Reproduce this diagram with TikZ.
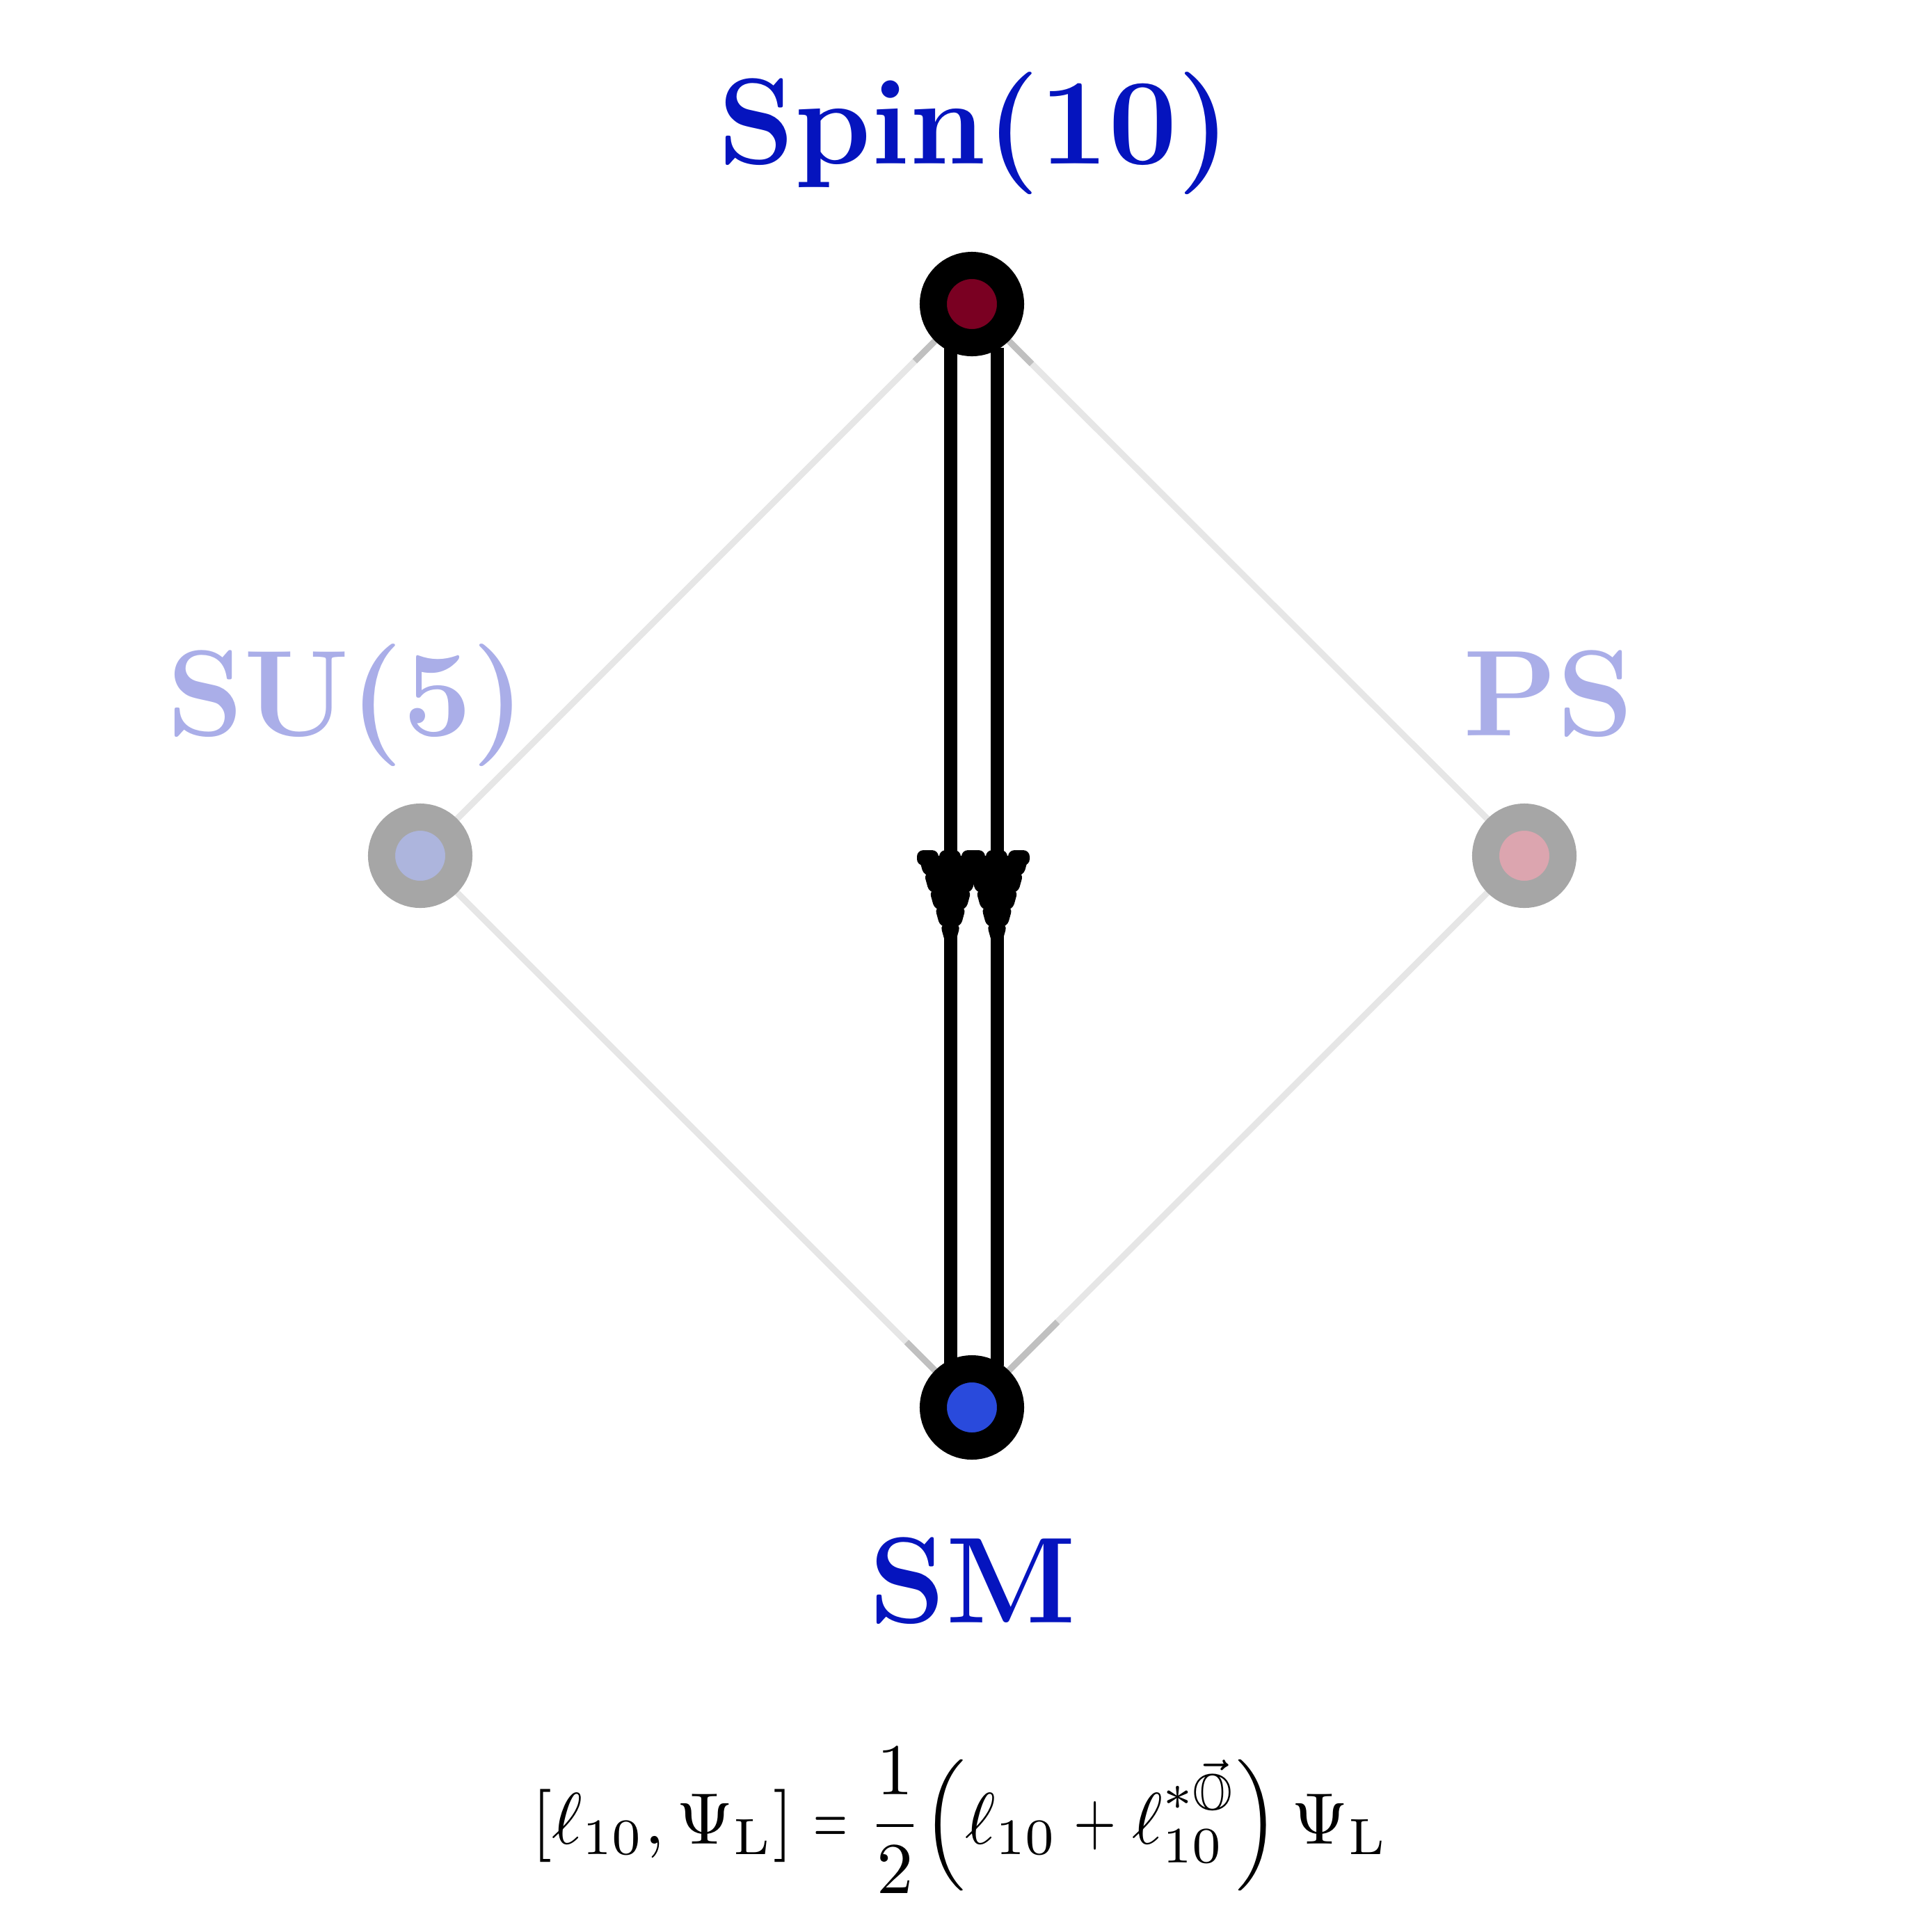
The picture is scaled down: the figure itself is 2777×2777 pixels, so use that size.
\documentclass[tikz,border=0pt]{standalone}
\usepackage{amsmath,amssymb,graphicx}
\usetikzlibrary{calc,backgrounds}
\definecolor{labdark}{RGB}{5,20,190}
\definecolor{lablight}{RGB}{170,174,232}
\definecolor{ringgray}{RGB}{166,166,166}
\definecolor{diagline}{RGB}{230,230,230}
\definecolor{diagdark}{RGB}{192,192,192}
\definecolor{spinfill}{RGB}{122,0,34}
\definecolor{smfill}{RGB}{41,74,220}
\definecolor{sufill}{RGB}{173,181,221}
\definecolor{psfill}{RGB}{220,165,175}
\tikzset{
  grpnode/.style={circle, minimum size=1.11cm, inner sep=0pt, line width=0.39cm},
  activenode/.style={grpnode, draw=black},
  idlenode/.style={grpnode, draw=ringgray},
  biglabel/.style={anchor=base, inner sep=0pt, font=\fontsize{50}{60}\selectfont\bfseries},
  diagconn/.style={draw=diagline, line width=2.6pt},
  diagnear/.style={draw=diagdark, line width=2.6pt},
  flowline/.style={draw=black, line width=5.4pt},
  tipblob/.style={fill=black, rounded corners=2.6pt}
}
\newcommand{\tipstack}[1]{%
  \foreach \b in {0,1,2}{%
    \pgfmathsetmacro{\bl}{#1-48+32*\b}%
    \path[tipblob] (\bl,1222) rectangle (\bl+31,1244);
  }%
  \foreach \k in {0,...,4}{%
    \pgfmathsetmacro{\ty}{1230+24.5*\k}%
    \pgfmathsetmacro{\hw}{46-7.8*\k}%
    \pgfmathsetmacro{\hb}{\hw-8}%
    \path[tipblob] (#1-\hw,\ty) -- (#1+\hw,\ty) -- (#1+\hb,\ty+29) -- (#1-\hb,\ty+29) -- cycle;
  }%
}
\begin{document}
\begin{tikzpicture}[x=0.01cm,y=-0.01cm]
\useasboundingbox (0,0) rectangle (2777,2777);
% group nodes
\node[activenode, fill=spinfill] (spin) at (1397,437) {};
\node[idlenode, fill=sufill] (su5) at (604,1230) {};
\node[idlenode, fill=psfill] (ps) at (2191,1230) {};
\node[activenode, fill=smfill] (sm) at (1397,2023) {};
% labels
\node[biglabel, text=labdark] (spinlab) at (1401,235) {Spin(10)};
\node[biglabel, text=lablight] (su5lab) at (498,1057) {SU(5)};
\node[biglabel, text=lablight] (pslab) at (2226,1057) {PS};
\node[biglabel, text=labdark] (smlab) at (1398,2332) {SM};
\begin{pgfonlayer}{background}
  \draw[diagconn] (spin.center) -- (su5.center);
  \draw[diagconn] (spin.center) -- (ps.center);
  \draw[diagconn] (su5.center) -- (sm.center);
  \draw[diagconn] (ps.center) -- (sm.center);
  \draw[diagnear] (spin.center) -- ($(spin.center)+(-82,82)$);
  \draw[diagnear] (spin.center) -- ($(spin.center)+(86,86)$);
  \draw[diagnear] (sm.center) -- ($(sm.center)+(-94,-94)$);
  \draw[diagnear] (sm.center) -- ($(sm.center)+(123,-123)$);
  \draw[flowline] ($(spin.center)+(-31,63)$) -- ($(sm.center)+(-31,-60)$);
  \draw[flowline] ($(spin.center)+(36,63)$) -- ($(sm.center)+(36,-60)$);
  \tipstack{1366}
  \tipstack{1433}
\end{pgfonlayer}
% equation
\node[anchor=base, inner sep=0pt] (eqn) at (1380,2650)
  {\resizebox{12.3cm}{!}{$\displaystyle [\ell_{10},\Psi_{\mathrm{L}}] \mathrel{\scalebox{0.6}[1]{=}} \frac{1}{2}\Big(\ell_{10}\mathbin{\scalebox{0.75}[1]{+}}\ell_{10}^{*\vec{\mathbb{O}}}\Big)\,\Psi_{\mathrm{L}}$}};
\end{tikzpicture}
\end{document}
